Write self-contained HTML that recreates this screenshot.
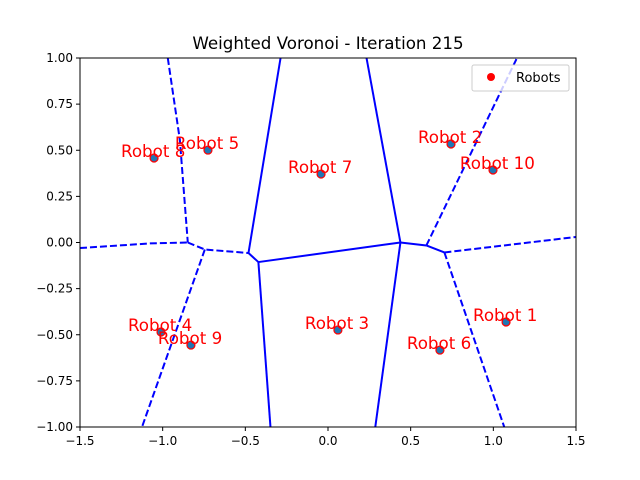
<!DOCTYPE html>
<html><head><meta charset="utf-8"><style>
body{margin:0;background:#fff}
svg{display:block;font-family:"DejaVu Sans","Liberation Sans",sans-serif}
</style></head><body>
<svg id="chart" width="640" height="480" viewBox="0 0 640 480" xmlns="http://www.w3.org/2000/svg">
<rect width="640" height="480" fill="#fff"/>
<text x="328" y="49" font-size="16.7" text-anchor="middle">Weighted Voronoi - Iteration 215</text>
<g id="plot"></g>
<rect x="80" y="58" width="496" height="369" fill="none" stroke="#000" stroke-width="1"/>
<g id="axes"></g>
<g>
<rect x="472" y="65" width="97" height="26" fill="#fff" fill-opacity="0.8" stroke="#ccc" rx="2"/>
<circle cx="491" cy="77" r="4" fill="#ff0000"/>
<text x="516" y="82" font-size="13">Robots</text>
</g>
</svg>
<script>
const robotX=[1.077,0.744,0.060,-1.010,-0.726,0.677,-0.042,-1.052,-0.829,0.998];
const robotY=[-0.431,0.534,-0.474,-0.485,0.501,-0.583,0.371,0.458,-0.556,0.393];
const robotLabels=["Robot 1","Robot 2","Robot 3","Robot 4","Robot 5","Robot 6","Robot 7","Robot 8","Robot 9","Robot 10"];
const solidEdges=[
 [[-0.287,1.0],[-0.481,-0.057]],
 [[0.233,1.0],[0.438,0.0]],
 [[-0.481,-0.057],[-0.421,-0.106]],
 [[-0.421,-0.106],[0.438,0.0]],
 [[-0.421,-0.106],[-0.348,-1.0]],
 [[0.438,0.0],[0.286,-1.0]],
 [[0.438,0.0],[0.595,-0.016]],
 [[0.595,-0.016],[0.704,-0.054]]
];
const dashedEdges=[
 [[-0.969,1.0],[-0.896,0.556],[-0.848,0.0]],
 [[-1.5,-0.03],[-1.077,-0.005],[-0.848,0.0]],
 [[-0.848,0.0],[-0.745,-0.038],[-0.481,-0.057]],
 [[-0.745,-0.038],[-1.125,-1.0]],
 [[0.595,-0.016],[1.143,1.0]],
 [[0.704,-0.054],[1.066,-1.0]],
 [[0.704,-0.054],[1.5,0.03]]
];
const xTicks=[-1.5,-1.0,-0.5,0.0,0.5,1.0,1.5];
const yTicks=[-1.0,-0.75,-0.5,-0.25,0.0,0.25,0.5,0.75,1.0];
const X0=80,X1=576,Y0=427,Y1=58;
function sx(v){return X0+(v+1.5)/3*(X1-X0);}
function sy(v){return Y0-(v+1)/2*(Y0-Y1);}
const NS="http://www.w3.org/2000/svg";
const plot=document.getElementById('plot'),axes=document.getElementById('axes');
function mk(t,a,p){const e=document.createElementNS(NS,t);for(const k in a)e.setAttribute(k,a[k]);p.appendChild(e);return e;}
function drawEdges(list,dash,name){
 list.forEach(pts=>{
  const e=mk('polyline',{points:pts.map(p=>sx(p[0])+','+sy(p[1])).join(' '),fill:'none',stroke:'#0000ff','stroke-width':2,'stroke-dasharray':dash},plot);
  
  
 });
}
drawEdges(solidEdges,'none','voronoi-edge-solid');
drawEdges(dashedEdges,'7,3','voronoi-edge-dashed');
robotX.forEach((x,i)=>{
 const c=mk('circle',{cx:sx(x),cy:sy(robotY[i]),r:4,fill:'#1f77b4',stroke:'#ff0000','stroke-width':1.2},plot);
 
 
 const t=mk('text',{x:sx(x-0.2),y:sy(robotY[i])-1,'font-size':16.7,fill:'#ff0000'},plot);
 t.textContent=robotLabels[i];
 
 
});
xTicks.forEach(v=>{
 const l=mk('line',{x1:sx(v),x2:sx(v),y1:Y0,y2:Y0+4,stroke:'#000'},axes);
 
 
 const t=mk('text',{x:sx(v),y:Y0+18,'font-size':12,'text-anchor':'middle'},axes);
 t.textContent=(v<0?'\u2212':'')+Math.abs(v).toFixed(1);
 
 
});
yTicks.forEach(v=>{
 const l=mk('line',{x1:X0-4,x2:X0,y1:sy(v),y2:sy(v),stroke:'#000'},axes);
 
 
 const t=mk('text',{x:X0-7,y:sy(v)+4,'font-size':12,'text-anchor':'end'},axes);
 t.textContent=(v<0?'\u2212':'')+Math.abs(v).toFixed(2);
 
 
});
</script>
</body></html>
